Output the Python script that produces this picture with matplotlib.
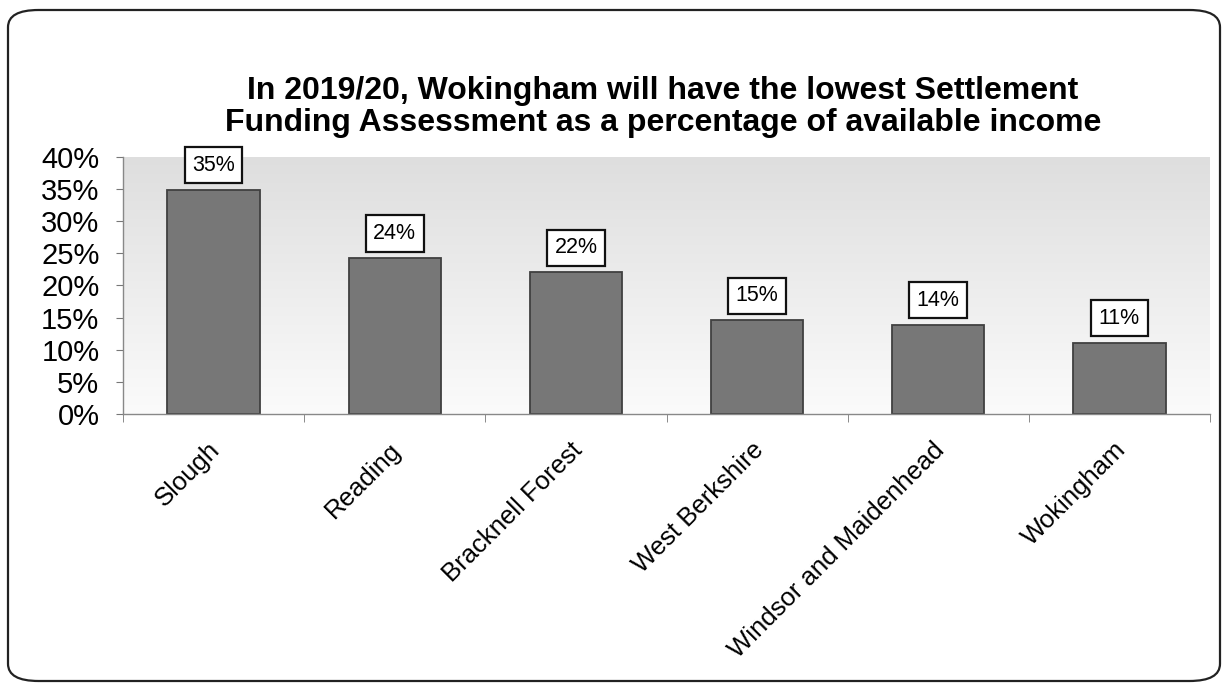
import matplotlib
matplotlib.use("Agg")
import matplotlib.pyplot as plt
import matplotlib.transforms as mtransforms
import numpy as np
from matplotlib.patches import FancyBboxPatch

categories = ["Slough", "Reading", "Bracknell Forest", "West Berkshire",
              "Windsor and Maidenhead", "Wokingham"]
values = [35, 24, 22, 15, 14, 11]
bar_heights = [34.9, 24.3, 22.1, 14.6, 13.9, 11.1]
yticks = [0, 5, 10, 15, 20, 25, 30, 35, 40]
ytick_labels = ["0%", "5%", "10%", "15%", "20%", "25%", "30%", "35%", "40%"]
title = ("In 2019/20, Wokingham will have the lowest Settlement\n"
         "Funding Assessment as a percentage of available income")

plt.rcParams['font.family'] = ['Liberation Sans', 'DejaVu Sans']

W, H = 1226, 687
fig = plt.figure(figsize=(W/100, H/100), dpi=100)
fig.patch.set_facecolor('white')

# outer rounded border
border = FancyBboxPatch((8/W, 6/H), (W-14)/W, (H-16)/H,
                        boxstyle="round,pad=0,rounding_size=0.025",
                        transform=fig.transFigure, fill=False,
                        edgecolor='#222222', linewidth=1.6)
fig.patches.append(border)

ax = fig.add_axes([123/W, 1-414/H, (1210-123)/W, (414-157)/H])
n = len(categories)
x = np.arange(n)
ax.set_xlim(-0.5, n-0.5)
ax.set_ylim(0, 40)

# gradient background
grad = np.linspace(0, 1, 256).reshape(-1, 1)
cmap = matplotlib.colors.LinearSegmentedColormap.from_list('g', ['#fbfbfb', '#dedede'])
ax.imshow(grad, aspect='auto', cmap=cmap, origin='lower',
          extent=(-0.5, n-0.5, 0, 40), zorder=0)

ax.bar(x, bar_heights, width=0.51, color='#777777', edgecolor='#404040',
       linewidth=1.3, zorder=2)

for xi, h, v in zip(x, bar_heights, values):
    ax.annotate(f"{v}%", (xi, h), xytext=(0, 10), textcoords='offset points',
                ha='center', va='bottom', fontsize=15.5, zorder=4,
                bbox=dict(boxstyle='square,pad=0.35', facecolor='white',
                          edgecolor='#111111', linewidth=1.6))

ax.set_yticks(yticks)
ax.set_yticklabels(ytick_labels, fontsize=21)
ax.set_xticks(x)
ax.set_xticklabels(categories, rotation=45, ha='right', rotation_mode='anchor',
                   fontsize=18.5)
ax.tick_params(axis='x', length=0, pad=17)
shift = mtransforms.ScaledTranslation(-6/100, 0, fig.dpi_scale_trans)
for lbl in ax.get_xticklabels():
    lbl.set_transform(lbl.get_transform() + shift)
ax.set_xticks(np.arange(-0.5, n, 1), minor=True)
ax.tick_params(axis='x', which='minor', length=6, color='#777777', direction='out')
ax.tick_params(axis='y', length=5, color='#777777', direction='out', pad=12)

for s in ['top', 'right']:
    ax.spines[s].set_visible(False)
for s in ['left', 'bottom']:
    ax.spines[s].set_color('#888888')
    ax.spines[s].set_linewidth(1.0)

fig.text(663/W, 1-107/H, title, ha='center', va='center', fontsize=23,
         fontweight='bold', linespacing=1.13)

fig.savefig('out.png', dpi=100)
